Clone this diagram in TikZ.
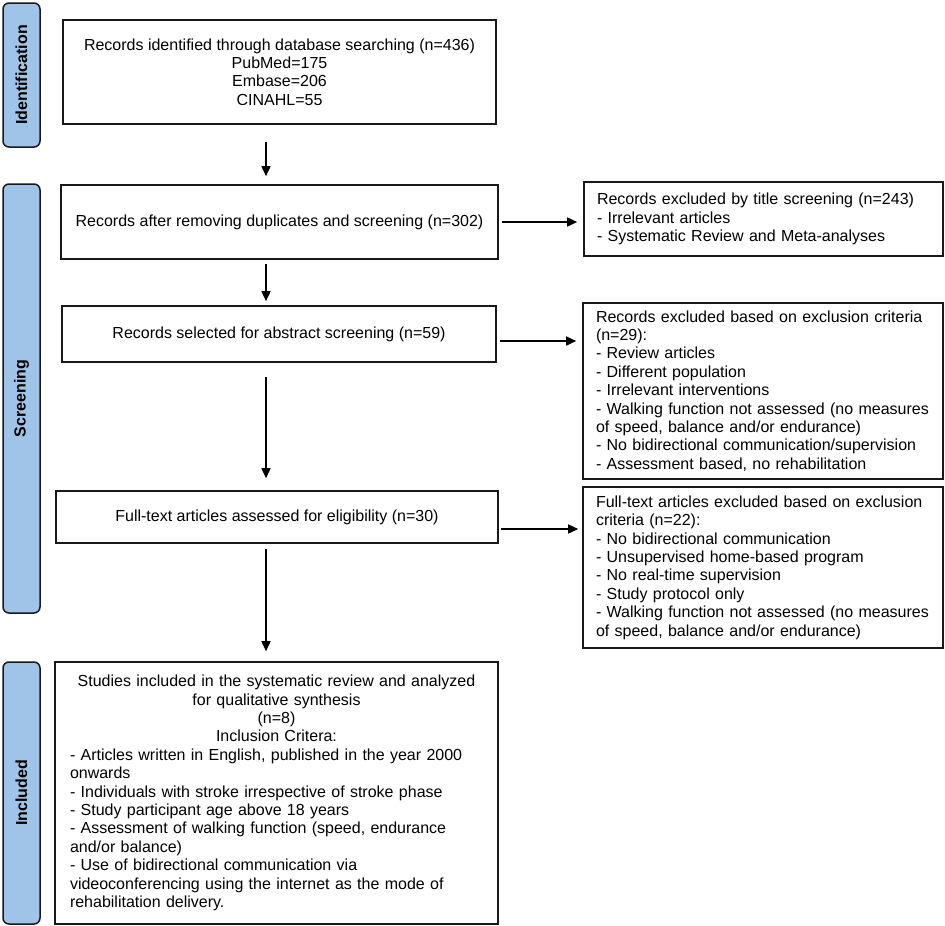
\documentclass[tikz,border=0pt]{standalone}
\usepackage{fontspec}
\setmainfont{Liberation Sans}
\usetikzlibrary{arrows.meta}
\definecolor{lblue}{RGB}{160,196,232}
\definecolor{edge}{RGB}{25,25,25}
\begin{document}
\begin{tikzpicture}[x=1pt,y=-1pt,
  txt/.style={font=\fontsize{16}{18.4}\selectfont},
  box/.style={draw=edge,line width=1.6pt,inner sep=0pt,txt},
  lbox/.style={box,align=left},
  phase/.style={draw=edge,fill=lblue,line width=1.5pt,rounded corners=6pt,rotate=90,
    inner sep=0pt,font=\fontsize{16}{18}\selectfont\bfseries},
  arr/.style={line width=1.6pt,-{Triangle[length=10pt,width=9pt]}}]
\useasboundingbox (0,0) rectangle (945,926);
% phase labels
\node[phase,minimum width=144pt,minimum height=37pt] (pid) at (21.5,75) {Identification};
\node[phase,minimum width=429pt,minimum height=37pt] (pscr) at (21.5,398.5) {Screening};
\node[phase,minimum width=262pt,minimum height=37pt] (pinc) at (21.5,793) {Included};
% left column
\node[box,align=center,minimum width=433pt,minimum height=104pt] (b1) at (279.5,72)
  {Records identified through database searching (n=436)\\PubMed=175\\Embase=206\\CINAHL=55};
\node[box,align=center,minimum width=437pt,minimum height=74pt] (b2) at (279.5,222)
  {Records after removing duplicates and screening (n=302)};
\node[box,align=center,minimum width=434pt,minimum height=56pt] (b4) at (279,334)
  {Records selected for abstract screening (n=59)};
\node[box,align=center,minimum width=442pt,minimum height=52pt] (b6) at (277,517)
  {Full-text articles assessed for eligibility (n=30)};
\node[box,text width=413pt,minimum width=443pt,minimum height=262pt] (b8) at (276.5,793)
  {\centering Studies included in the systematic review and analyzed\\for qualitative synthesis\\(n=8)\\Inclusion Critera:\par
   \raggedright - Articles written in English, published in the year 2000\\onwards\\- Individuals with stroke irrespective of stroke phase\\- Study participant age above 18 years\\- Assessment of walking function (speed, endurance\\and/or balance)\\- Use of bidirectional communication via\\videoconferencing using the internet as the mode of\\rehabilitation delivery.\par};
% right column
\node[lbox,text width=333pt,minimum width=359pt,minimum height=74pt] (b3) at (763.5,219)
  {Records excluded by title screening (n=243)\\- Irrelevant articles\\- Systematic Review and Meta-analyses};
\node[lbox,text width=334pt,minimum width=360pt,minimum height=176pt] (b5) at (763,391)
  {Records excluded based on exclusion criteria\\(n=29):\\- Review articles\\- Different population\\- Irrelevant interventions\\- Walking function not assessed (no measures\\of speed, balance and/or endurance)\\- No bidirectional communication/supervision\\- Assessment based, no rehabilitation};
\node[lbox,text width=334pt,minimum width=360pt,minimum height=161pt] (b7) at (763,567.5)
  {Full-text articles excluded based on exclusion\\criteria (n=22):\\- No bidirectional communication\\- Unsupervised home-based program\\- No real-time supervision\\- Study protocol only\\- Walking function not assessed (no measures\\of speed, balance and/or endurance)};
% connectors
\coordinate (ax) at (266,0);
\draw[arr,shorten <=17pt,shorten >=8pt] (b1.south -| ax) -- (b2.north -| ax);
\draw[arr,shorten <=4pt,shorten >=4pt] (b2.south -| ax) -- (b4.north -| ax);
\draw[arr,shorten <=14pt,shorten >=12pt] (b4.south -| ax) -- (b6.north -| ax);
\draw[arr,shorten <=5pt,shorten >=10pt] (b6.south -| ax) -- (b8.north -| ax);
\draw[arr,shorten <=3pt,shorten >=6pt] (b2.east) -- (b2.east -| b3.west);
\draw[arr,shorten <=3pt,shorten >=6pt] ([yshift=-7pt]b4.east) -- ([yshift=-7pt]b4.east -| b5.west);
\draw[arr,shorten <=2pt,shorten >=4pt] ([yshift=-12pt]b6.east) -- ([yshift=-12pt]b6.east -| b7.west);
\end{tikzpicture}
\end{document}
